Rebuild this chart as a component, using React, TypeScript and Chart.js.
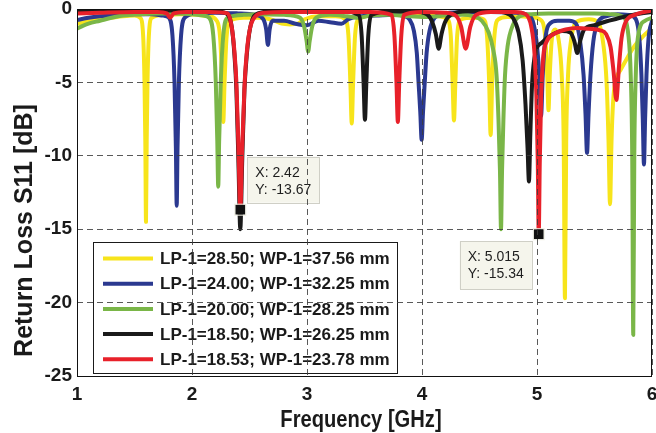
import React, { useEffect, useRef } from 'react';
import { Chart, registerables } from 'chart.js';

Chart.register(...registerables);

// ---------------- data ----------------
const xTicks = [1, 2, 3, 4, 5, 6];
const yTicks = [0, -5, -10, -15, -20, -25];
const xTitle = 'Frequency [GHz]';
const yTitle = 'Return Loss S11 [dB]';

const seriesLabels = [
  'LP-1=28.50; WP-1=37.56 mm',
  'LP-1=24.00; WP-1=32.25 mm',
  'LP-1=20.00; WP-1=28.25 mm',
  'LP-1=18.50; WP-1=26.25 mm',
  'LP-1=18.53; WP-1=23.78 mm',
];
const seriesColors = ['#F7E41B', '#2B3990', '#7AB648', '#1A1A1A', '#E8212A'];

const freqYellow = [
  1.0, 1.1, 1.2, 1.3, 1.4, 1.5,
  1.55, 1.575, 1.587, 1.594, 1.6, 1.606, 1.613, 1.625, 1.65,
  1.75, 1.9, 2.05, 2.15, 2.215, 2.245, 2.262, 2.272, 2.283, 2.3, 2.33, 2.45, 2.6, 2.7, 2.78, 2.85, 2.92, 2.98, 3.1, 3.25,
  3.33, 3.36, 3.377, 3.389, 3.401, 3.418, 3.45,
  3.6, 3.8, 4.0, 4.15,
  4.22, 4.25, 4.266, 4.278, 4.29, 4.306, 4.34,
  4.45,
  4.535, 4.565, 4.584, 4.597, 4.61, 4.63, 4.665,
  4.75, 4.85, 4.95,
  5.04, 5.07, 5.089, 5.1, 5.111, 5.13, 5.16,
  5.19, 5.215, 5.232, 5.243, 5.254, 5.27, 5.295, 5.34,
  5.45, 5.53, 5.575, 5.605, 5.622, 5.635, 5.648, 5.662, 5.682, 5.7, 5.73, 5.78, 5.85, 5.93, 6.0,
];
const s11Yellow = [
  -1.0, -0.85, -0.7, -0.6, -0.5, -0.45,
  -0.6, -1.8, -5.0, -9.0, -14.5, -9.0, -5.0, -1.8, -0.6,
  -0.4, -0.35, -0.4, -0.5, -0.8, -2.0, -5.0, -7.7, -5.0, -2.0, -0.8, -0.6, -0.6, -0.75, -1.0, -1.05, -1.0, -0.7, -0.5, -0.5,
  -0.7, -1.8, -5.0, -7.8, -5.0, -1.8, -0.7,
  -0.4, -0.35, -0.4, -0.5,
  -0.7, -1.8, -5.0, -7.6, -5.0, -1.8, -0.7,
  -0.6,
  -0.7, -1.8, -5.0, -8.6, -5.0, -1.8, -0.7,
  -0.55, -0.5, -0.55,
  -0.8, -1.8, -4.5, -6.9, -4.5, -2.0, -1.4,
  -2.2, -4.5, -9.0, -19.7, -9.0, -4.5, -2.2, -0.9,
  -0.7, -0.9, -2.3, -5.0, -9.0, -13.3, -9.0, -6.3, -4.9, -4.5, -4.1, -3.4, -2.5, -1.8, -1.3,
];

const freqBlue = [
  1.0, 1.1, 1.2, 1.35, 1.5, 1.65, 1.75,
  1.8, 1.83, 1.848, 1.86, 1.867, 1.874, 1.886, 1.905, 1.935,
  2.05, 2.2, 2.4, 2.55, 2.62, 2.645, 2.66, 2.675, 2.7, 2.8, 2.9, 3.0, 3.1, 3.2, 3.3, 3.36, 3.45, 3.6, 3.75, 3.85,
  3.89, 3.93, 3.955, 3.97, 3.985, 3.997, 4.009, 4.024, 4.04, 4.065, 4.11,
  4.2, 4.4, 4.6, 4.8, 4.92,
  4.97, 5.0, 5.02, 5.035, 5.05, 5.07, 5.1,
  5.18, 5.28, 5.34,
  5.375, 5.405, 5.422, 5.435, 5.448, 5.465, 5.49, 5.53,
  5.6, 5.7, 5.8, 5.86, 5.89, 5.908, 5.92, 5.93, 5.94, 5.952, 5.97, 6.0,
];
const s11Blue = [
  -0.75, -0.6, -0.5, -0.4, -0.35, -0.35, -0.45,
  -0.6, -1.8, -5.0, -9.5, -13.4, -9.5, -5.0, -1.8, -0.6,
  -0.3, -0.25, -0.3, -0.4, -0.7, -1.4, -2.45, -1.4, -0.8, -0.8, -1.0, -1.1, -0.8, -0.9, -1.0, -0.7, -0.5, -0.45, -0.4, -0.5,
  -0.7, -1.5, -3.0, -5.0, -7.0, -8.9, -7.0, -5.0, -3.0, -1.5, -0.6,
  -0.3, -0.2, -0.2, -0.25, -0.4,
  -1.0, -2.5, -4.5, -7.3, -4.5, -2.2, -1.1,
  -0.8, -0.8, -1.0,
  -2.2, -4.5, -7.2, -9.8, -7.2, -4.5, -2.2, -0.9,
  -0.5, -0.35, -0.4, -0.7, -2.0, -4.5, -7.5, -10.6, -7.5, -4.5, -2.0, -0.8,
];

const freqGreen = [
  1.0, 1.05, 1.1, 1.2, 1.3, 1.4, 1.55, 1.7, 1.85, 2.0, 2.1,
  2.15, 2.185, 2.207, 2.22, 2.228, 2.236, 2.25, 2.272, 2.31,
  2.45, 2.6, 2.8, 2.94, 2.975, 2.997, 3.01, 3.023, 3.045, 3.08,
  3.2, 3.35, 3.45, 3.55, 3.7, 3.9, 4.05, 4.2, 4.35, 4.45,
  4.52, 4.58, 4.62, 4.648, 4.665, 4.678, 4.687, 4.696, 4.708, 4.722, 4.745, 4.79, 4.85,
  4.95, 5.1, 5.3, 5.5, 5.65, 5.74,
  5.795, 5.815, 5.828, 5.837, 5.846, 5.859, 5.88, 5.94, 6.0,
];
const s11Green = [
  -1.35, -1.15, -1.0, -0.8, -0.6, -0.45, -0.35, -0.3, -0.3, -0.35, -0.45,
  -0.6, -1.8, -5.0, -9.0, -12.1, -9.0, -5.0, -1.8, -0.6,
  -0.4, -0.35, -0.4, -0.6, -1.2, -2.2, -2.9, -2.2, -1.2, -0.6,
  -0.4, -0.5, -0.6, -0.45, -0.4, -0.5, -0.55, -0.45, -0.4, -0.5,
  -0.8, -1.6, -2.8, -4.5, -7.5, -11.0, -15.0, -11.0, -7.5, -4.5, -2.5, -1.1, -0.5,
  -0.35, -0.3, -0.3, -0.3, -0.35, -0.5,
  -1.8, -4.5, -10.0, -22.2, -10.0, -4.5, -1.8, -0.8, -0.6,
];

const freqBlack = [
  1.0, 1.3, 1.6, 1.9, 2.2,
  2.3, 2.345, 2.368, 2.386, 2.404, 2.42, 2.436, 2.456, 2.478, 2.505, 2.55,
  2.7, 3.0, 3.3,
  3.45, 3.475, 3.492, 3.504, 3.516, 3.533, 3.56,
  3.75, 3.95,
  4.05, 4.09, 4.12, 4.145, 4.17, 4.2, 4.25,
  4.4, 4.6, 4.72,
  4.79, 4.84, 4.875, 4.9, 4.918, 4.93, 4.942, 4.958, 4.985, 5.04, 5.12, 5.22,
  5.29, 5.325, 5.35, 5.375, 5.41,
  5.5, 5.6, 5.7, 5.8, 5.9, 6.0,
];
const s11Black = [
  -0.15, -0.12, -0.1, -0.1, -0.15,
  -0.3, -1.2, -3.0, -5.5, -10.5, -15.0, -10.5, -5.5, -3.0, -1.3, -0.4,
  -0.15, -0.12, -0.15,
  -0.4, -1.8, -5.0, -7.55, -5.0, -1.8, -0.4,
  -0.15, -0.2,
  -0.4, -0.9, -1.7, -2.7, -1.7, -0.9, -0.4,
  -0.15, -0.15, -0.25,
  -0.6, -1.6, -3.5, -6.5, -9.5, -11.75, -8.5, -5.0, -3.0, -2.3, -1.8, -1.5,
  -1.6, -2.2, -3.0, -2.2, -1.4,
  -1.1, -0.85, -0.65, -0.45, -0.3, -0.2,
];

const freqRed = [
  1.0, 1.2, 1.5, 1.7, 1.78, 1.81, 1.84, 1.95, 2.15,
  2.31, 2.345, 2.368, 2.386, 2.404, 2.42, 2.436, 2.458, 2.478, 2.505, 2.55, 2.64,
  2.8, 3.0, 3.3, 3.55,
  3.735, 3.76, 3.778, 3.79, 3.802, 3.82, 3.845,
  4.0, 4.2,
  4.3, 4.34, 4.38, 4.42, 4.47,
  4.6, 4.8,
  4.9, 4.95, 4.978, 4.995, 5.007, 5.015, 5.024, 5.036, 5.055, 5.085, 5.15, 5.25, 5.35, 5.45, 5.55,
  5.6, 5.64, 5.665, 5.69, 5.712, 5.735, 5.77, 5.85, 5.93, 6.0,
];
const s11Red = [
  -0.3, -0.25, -0.2, -0.2, -0.3, -0.6, -0.3, -0.2, -0.2,
  -0.3, -1.2, -2.8, -5.0, -9.5, -13.67, -9.5, -5.0, -2.8, -1.3, -0.5, -0.25,
  -0.2, -0.2, -0.2, -0.2,
  -0.4, -1.8, -5.0, -7.7, -5.0, -1.8, -0.4,
  -0.2, -0.25,
  -0.5, -1.2, -2.7, -1.2, -0.4,
  -0.2, -0.2,
  -0.35, -1.2, -3.0, -6.0, -10.5, -15.34, -10.5, -6.0, -3.2, -2.2, -1.7, -1.4, -1.3, -1.35, -1.45,
  -1.7, -2.6, -4.2, -6.2, -4.0, -2.0, -0.9, -0.4, -0.2, -0.1,
];

const seriesFreqs = [freqYellow, freqBlue, freqGreen, freqBlack, freqRed];
const seriesS11 = [s11Yellow, s11Blue, s11Green, s11Black, s11Red];

// data tips
const tipFreq = [2.42, 5.015];
const tipS11 = [-13.67, -15.34];

// ---------------- drawing ----------------
const FONT = '"Liberation Sans", Arial, Helvetica, sans-serif';

const overlayPlugin = {
  id: 'overlay',
  afterDatasetsDraw(chart: any) {
    const { ctx, chartArea: ca, scales } = chart;
    const xs = scales.x;
    const ys = scales.y;
    ctx.save();

    // legend box (inside plot, lower-left)
    const lx = ca.left + 16;
    const lw = 304;
    const lh = 131;
    const lt = ca.bottom - 3 - lh;
    ctx.fillStyle = '#ffffff';
    ctx.fillRect(lx, lt, lw, lh);
    ctx.strokeStyle = '#1a1a1a';
    ctx.lineWidth = 1;
    ctx.strokeRect(Math.round(lx) + 0.5, Math.round(lt) + 0.5, lw, lh);
    ctx.font = 'bold 17px ' + FONT;
    ctx.textBaseline = 'middle';
    ctx.textAlign = 'left';
    seriesLabels.forEach((lab, i) => {
      const cy = lt + 16.5 + i * 25.2;
      ctx.strokeStyle = seriesColors[i];
      ctx.lineWidth = 4;
      ctx.beginPath();
      ctx.moveTo(lx + 10, cy);
      ctx.lineTo(lx + 60, cy);
      ctx.stroke();
      ctx.fillStyle = '#1a1a1a';
      ctx.fillText(lab, lx + 67, cy + 1);
    });

    // data tips
    ctx.font = '14px ' + FONT;
    ctx.textBaseline = 'alphabetic';
    tipFreq.forEach((f, i) => {
      const mx = xs.getPixelForValue(f);
      const my = ys.getPixelForValue(tipS11[i]);
      const l1 = 'X: ' + f;
      const l2 = 'Y: ' + tipS11[i];
      const w = Math.ceil(Math.max(ctx.measureText(l1).width, ctx.measureText(l2).width)) + 15;
      const h = i === 0 ? 46 : 48;
      const bx = i === 0 ? mx + 7 : mx - 7 - w;
      const by = i === 0 ? my - 7 - h : my + 7;
      ctx.fillStyle = '#F5F5EC';
      ctx.fillRect(bx, by, w, h);
      ctx.strokeStyle = '#CFCFC6';
      ctx.lineWidth = 1;
      ctx.strokeRect(Math.round(bx) + 0.5, Math.round(by) + 0.5, w, h);
      ctx.fillStyle = '#1e1e1e';
      ctx.fillText(l1, bx + 8, by + 20);
      ctx.fillText(l2, bx + 8, by + 37);
      // marker
      ctx.fillStyle = '#111111';
      ctx.fillRect(mx - 5, my - 5, 10, 10);
      ctx.strokeStyle = '#EDEDE0';
      ctx.lineWidth = 1;
      ctx.strokeRect(mx - 5.5, my - 5.5, 11, 11);
    });
    ctx.restore();
  },
  afterDraw(chart: any) {
    const { ctx, chartArea: ca } = chart;
    ctx.save();
    // frame
    ctx.strokeStyle = '#111111';
    ctx.lineWidth = 1;
    ctx.strokeRect(Math.round(ca.left) + 0.5, Math.round(ca.top) + 0.5,
      Math.round(ca.right - ca.left) - 1, Math.round(ca.bottom - ca.top));
    // axis titles
    ctx.fillStyle = '#1a1a1a';
    ctx.textAlign = 'center';
    ctx.textBaseline = 'alphabetic';
    ctx.save();
    ctx.font = 'bold 24px ' + FONT;
    ctx.translate((ca.left + ca.right) / 2 - 3.5, ca.bottom + 51);
    ctx.scale(0.84, 1);
    ctx.fillText(xTitle, 0, 0);
    ctx.restore();
    ctx.save();
    ctx.font = 'bold 25px ' + FONT;
    ctx.translate(32, (ca.top + ca.bottom) / 2 + 38);
    ctx.rotate(-Math.PI / 2);
    ctx.fillText(yTitle, 0, 0);
    ctx.restore();
    ctx.restore();
  },
};

export default function App() {
  const canvasRef = useRef<HTMLCanvasElement | null>(null);

  useEffect(() => {
    if (!canvasRef.current) return;
    const datasets = seriesLabels.map((label, i) => ({
      label,
      data: seriesFreqs[i].map((f, j) => ({ x: f, y: seriesS11[i][j] })),
      borderColor: seriesColors[i],
      backgroundColor: seriesColors[i],
      borderWidth: 4,
      pointRadius: 0,
      pointHoverRadius: 0,
      fill: false,
      cubicInterpolationMode: 'monotone' as const,
      borderJoinStyle: 'round' as const,
      borderCapStyle: 'round' as const,
      clip: 0,
      order: seriesLabels.length - i,
    }));

    const gridColor = 'rgba(60,60,60,0.85)';
    const tickFont = { family: FONT, size: 19, weight: 'bold' as const };

    const chart = new Chart(canvasRef.current, {
      type: 'line',
      data: { datasets },
      plugins: [overlayPlugin],
      options: {
        animation: false,
        responsive: false,
        devicePixelRatio: 1,
        events: [],
        layout: { padding: { top: 9, right: 4, bottom: 0, left: 0 } },
        plugins: {
          legend: { display: false },
          tooltip: { enabled: false },
          title: { display: false },
        },
        scales: {
          x: {
            type: 'linear',
            min: 1,
            max: 6,
            afterBuildTicks: (s: any) => {
              s.ticks = xTicks.map((v) => ({ value: v }));
            },
            afterFit: (s: any) => {
              s.height = 57;
              s.paddingLeft = 0;
              s.paddingRight = 0;
            },
            ticks: {
              autoSkip: false,
              maxRotation: 0,
              padding: 7,
              color: '#1a1a1a',
              font: tickFont,
            },
            grid: { color: gridColor, lineWidth: 1, drawTicks: false, z: 1 },
            border: { display: false, dash: [6, 4] },
          },
          y: {
            type: 'linear',
            min: -25,
            max: 0,
            afterBuildTicks: (s: any) => {
              s.ticks = yTicks.map((v) => ({ value: v }));
            },
            afterFit: (s: any) => {
              s.width = 77;
              s.paddingTop = 0;
              s.paddingBottom = 0;
            },
            ticks: {
              autoSkip: false,
              padding: 5,
              color: '#1a1a1a',
              font: tickFont,
            },
            grid: { color: gridColor, lineWidth: 1, drawTicks: false, z: 1 },
            border: { display: false, dash: [6, 4] },
          },
        },
      },
    } as any);

    return () => {
      chart.destroy();
    };
  }, []);

  return (
    <div style={{ position: 'fixed', left: 0, top: 0, width: 656, height: 433, background: '#ffffff' }}>
      <canvas ref={canvasRef} width={656} height={433} style={{ display: 'block', width: 656, height: 433 }} />
    </div>
  );
}
